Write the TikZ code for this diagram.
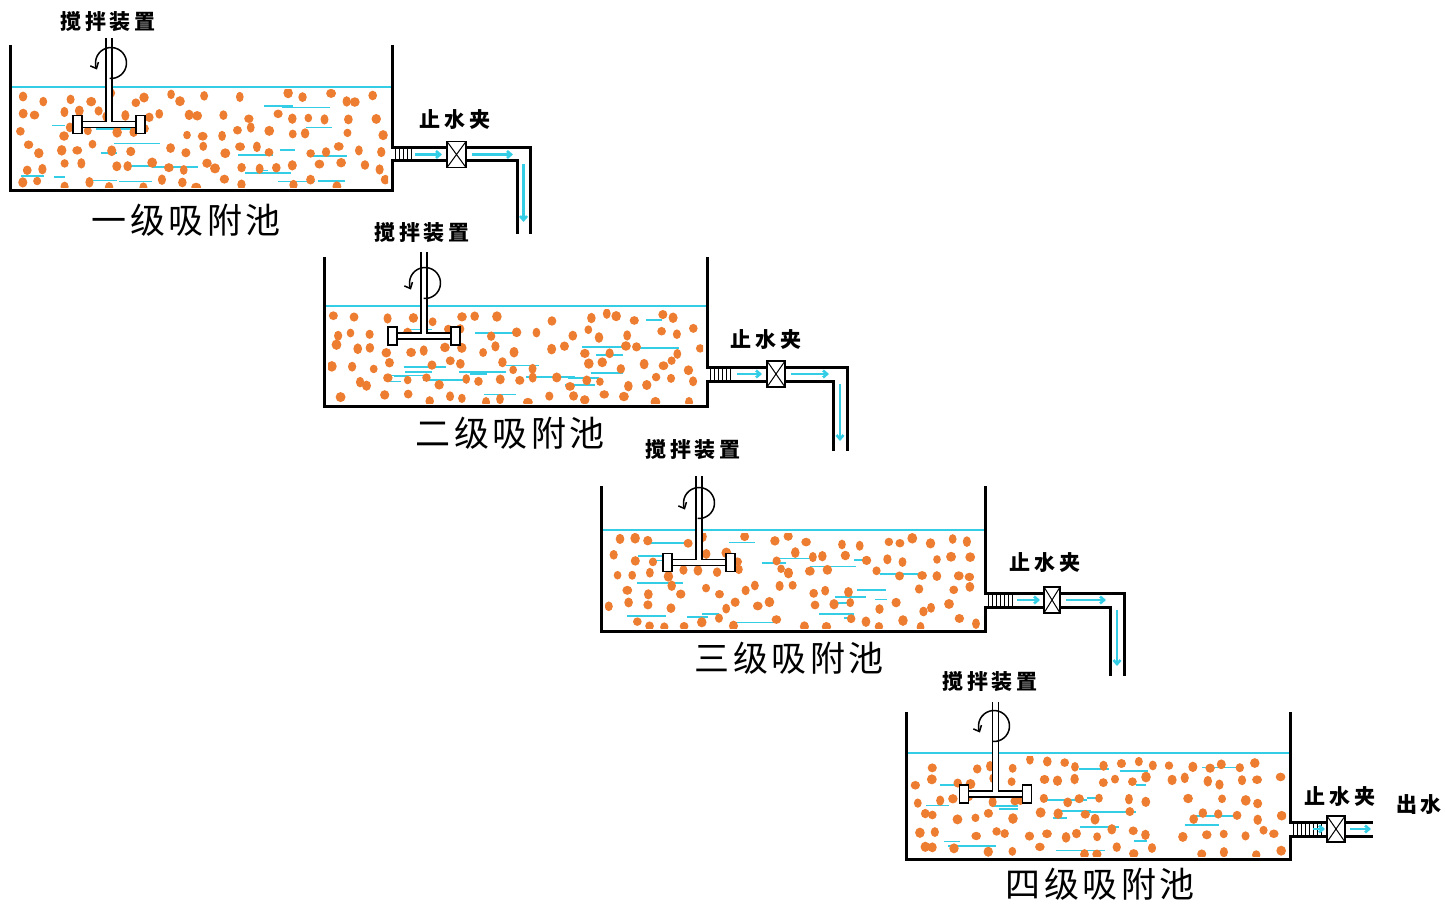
\documentclass[tikz,border=0pt]{standalone}
\usepackage{fontspec}
\usetikzlibrary{arrows.meta}
\newfontfamily\cjkbig{Noto Sans CJK SC}[LetterSpace=10]
\newfontfamily\cjksmall{Noto Sans CJK SC}[LetterSpace=18]
\definecolor{pellet}{RGB}{237,125,49}
\definecolor{water}{RGB}{51,206,230}
\tikzset{
  wall/.style={line width=3pt, line join=miter},
  thinline/.style={line width=1.5pt},
  flow/.style={water, line width=2.6pt, -{Straight Barb[length=4pt,width=7pt]}},
  biglabel/.style={font=\cjkbig\fontsize{35}{40}\selectfont, inner sep=0pt},
  smalllabel/.style={font=\cjksmall\bfseries\fontsize{21}{24}\selectfont, inner sep=0pt},
}
% adsorbent pellets and ripple dashes inside a tank: left, right, water level, bottom
\newcommand{\pellets}[4]{%
  \begin{scope}
    \clip (#1+4,#3+3) rectangle (#2-4,#4-3);
    \foreach \i in {1,...,20}{
      \pgfmathsetmacro\dashx{#1+10+rnd*(#2-#1-60)}
      \pgfmathsetmacro\dashy{#3+12+rnd*(#4-#3-20)}
      \pgfmathsetmacro\dashl{10+rnd*40}
      \draw[water, line width=1.7pt] (\dashx,\dashy) -- ++(\dashl,0);
    }
    \foreach \c in {0,...,20}{
      \foreach \r in {0,...,5}{
        \pgfmathsetmacro\dotx{#1+13+\c*(#2-#1-26)/20+(rnd-0.5)*13}
        \pgfmathsetmacro\doty{#3+11+\r*(#4-#3-19)/5+(rnd-0.5)*10}
        \pgfmathsetmacro\dotrx{3.8+rnd*1.2}
        \pgfmathsetmacro\dotry{4.2+rnd*1.2}
        \pgfmathtruncatemacro\keep{rnd<0.85 ? 1 : 0}
        \ifnum\keep=1
          \fill[pellet] (\dotx,\doty) ellipse [x radius=\dotrx pt, y radius=\dotry pt];
        \fi
      }
    }
  \end{scope}
}
% stirrer: shaft x, shaft top, circle centre x, circle centre y, paddle y
\newcommand{\agitator}[5]{%
  \fill[white] (#1-3,#2) rectangle (#1+3,#5);
  \fill[white] (#1-27,#5-3) rectangle (#1+27,#5+3);
  \draw[thinline, -{Straight Barb[length=5pt,width=9pt]}]
    (#3,#4) ++(-265:15.5) arc[start angle=-265, end angle=-565, radius=15.5];
  \draw[thinline] (#1-3,#2) -- (#1-3,#5-3) -- (#1-27,#5-3)
                  (#1+3,#2) -- (#1+3,#5-3) -- (#1+27,#5-3)
                  (#1-27,#5+3) -- (#1+27,#5+3);
  \draw[thinline, fill=white] (#1-36,#5-9) rectangle (#1-27,#5+9);
  \draw[thinline, fill=white] (#1+27,#5-9) rectangle (#1+36,#5+9);
}
% hatched pipe stub: wall x, pipe top, pipe bottom, stub end x
\newcommand{\hatch}[4]{%
  \pgfmathtruncatemacro\hatchn{(#4-#1-3)/4}
  \foreach \k in {0,...,\hatchn}{
    \draw[line width=1pt] (#1+3+4*\k,#2) -- (#1+3+4*\k,#3);
  }
}
% pinch clamp: left x, right x, pipe centre y
\newcommand{\clampbox}[3]{%
  \draw[line width=1.3pt, fill=white] (#1,#3-13) rectangle (#2,#3+13);
  \draw[line width=1pt] (#1,#3-13) -- (#2,#3+13) (#1,#3+13) -- (#2,#3-13);
}
\begin{document}
\begin{tikzpicture}[x=1pt,y=-1pt]
  \useasboundingbox (0,0) rectangle (1445,904);
  \pgfmathsetseed{4711}

  % ---- stage 1
  \pellets{10}{392}{87}{191}
  \draw[water, line width=1.5pt] (10,87) -- (392,87);
  \draw[wall] (10,45) -- (10,191) -- (392,191) -- (392,161) -- (517,161) -- (517,234);
  \draw[wall] (392,45) -- (392,148) -- (530,148) -- (530,234);
  \hatch{392}{148}{161}{412}
  \clampbox{447}{466}{154.5}
  \draw[flow] (415,154.5) -- (442,154.5);
  \draw[flow] (472,154.5) -- (513,154.5);
  \draw[flow] (523.5,164) -- (523.5,222);
  \agitator{109}{38}{111}{63}{124.5}
  \node[smalllabel] (stir1) at (108,22) {搅拌装置};
  \node[smalllabel] (clamp1) at (455,120) {止水夹};
  \node[biglabel] (tank1) at (186,220) {一级吸附池};

  % ---- stage 2
  \pellets{324}{707}{306}{406}
  \draw[water, line width=1.5pt] (324,306) -- (707,306);
  \draw[wall] (324,257) -- (324,406) -- (707,406) -- (707,381) -- (833,381) -- (833,451);
  \draw[wall] (707,257) -- (707,367) -- (847,367) -- (847,451);
  \hatch{707}{367}{381}{733}
  \clampbox{767}{785}{374}
  \draw[flow] (737,374) -- (762,374);
  \draw[flow] (791,374) -- (829,374);
  \draw[flow] (840,384) -- (840,441);
  \agitator{424}{252}{425}{283}{336}
  \node[smalllabel] (stir2) at (422,233) {搅拌装置};
  \node[smalllabel] (clamp2) at (766,340) {止水夹};
  \node[biglabel] (tank2) at (510,433) {二级吸附池};

  % ---- stage 3
  \pellets{601}{985}{530}{631}
  \draw[water, line width=1.5pt] (601,530) -- (985,530);
  \draw[wall] (601,486) -- (601,631) -- (985,631) -- (985,607) -- (1110,607) -- (1110,676);
  \draw[wall] (985,486) -- (985,593) -- (1124,593) -- (1124,676);
  \hatch{985}{593}{607}{1013}
  \clampbox{1044}{1060}{600}
  \draw[flow] (1017,600) -- (1040,600);
  \draw[flow] (1066,600) -- (1106,600);
  \draw[flow] (1117,610) -- (1117,666);
  \agitator{699}{476}{699}{503}{562.5}
  \node[smalllabel] (stir3) at (693,450) {搅拌装置};
  \node[smalllabel] (clamp3) at (1045,563) {止水夹};
  \node[biglabel] (tank3) at (789,658) {三级吸附池};

  % ---- stage 4
  \pellets{906}{1290}{753}{859}
  \draw[water, line width=1.5pt] (906,753) -- (1290,753);
  \draw[wall] (906,712) -- (906,859) -- (1290,859) -- (1290,836) -- (1373,836);
  \draw[wall] (1290,712) -- (1290,822) -- (1373,822);
  \hatch{1290}{822}{836}{1322}
  \clampbox{1327}{1345}{829}
  \draw[flow] (1313,829) -- (1325,829);
  \draw[flow] (1350,829) -- (1371,829);
  \agitator{995.5}{702}{994}{726}{794}
  \node[smalllabel] (stir4) at (990,682) {搅拌装置};
  \node[smalllabel] (clamp4) at (1340,797) {止水夹};
  \node[smalllabel] (outflow) at (1419,805) {出水};
  \node[biglabel] (tank4) at (1100,884) {四级吸附池};
\end{tikzpicture}
\end{document}
